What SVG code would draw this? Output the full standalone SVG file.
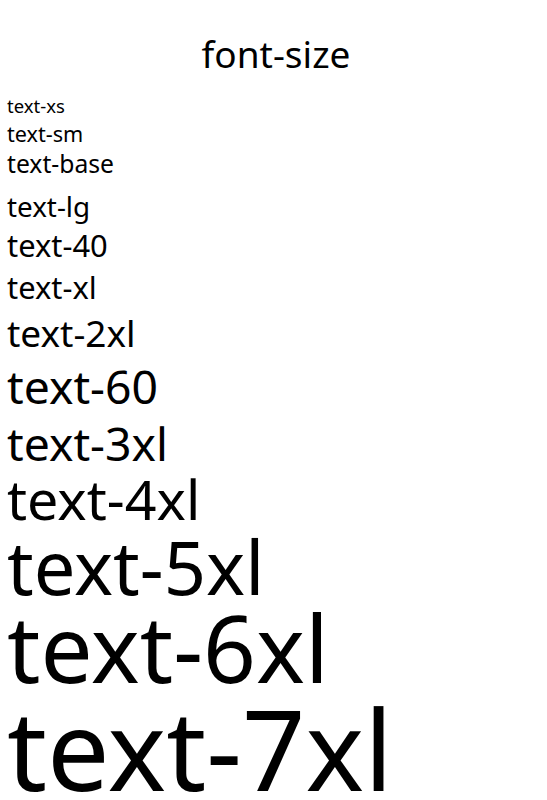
<svg xmlns="http://www.w3.org/2000/svg" width="547" height="800" viewBox="0 0 547 800">
<style>
text{font-family:"Noto Sans","Open Sans","DejaVu Sans",sans-serif;fill:#000;}
</style>
<rect width="547" height="800" fill="#fff"/>
<g id="title"><text x="276" y="68" font-size="37" text-anchor="middle">font-size</text></g>
<g id="items">
<text x="7" y="113" font-size="18.5">text-xs</text>
<text x="7" y="142" font-size="21.6">text-sm</text>
<text x="7" y="173" font-size="24.7">text-base</text>
<text x="7" y="217" font-size="27.8">text-lg</text>
<text x="7" y="257" font-size="30.9">text-40</text>
<text x="7" y="299" font-size="30.9">text-xl</text>
<text x="7" y="347" font-size="37">text-2xl</text>
<text x="7" y="404" font-size="46.3">text-60</text>
<text x="7" y="461" font-size="46.3">text-3xl</text>
<text x="7" y="520" font-size="55.6">text-4xl</text>
<text x="7" y="595" font-size="74">text-5xl</text>
<text x="7" y="683" font-size="92.6">text-6xl</text>
<text x="7" y="791" font-size="111">text-7xl</text>
</g>
</svg>
